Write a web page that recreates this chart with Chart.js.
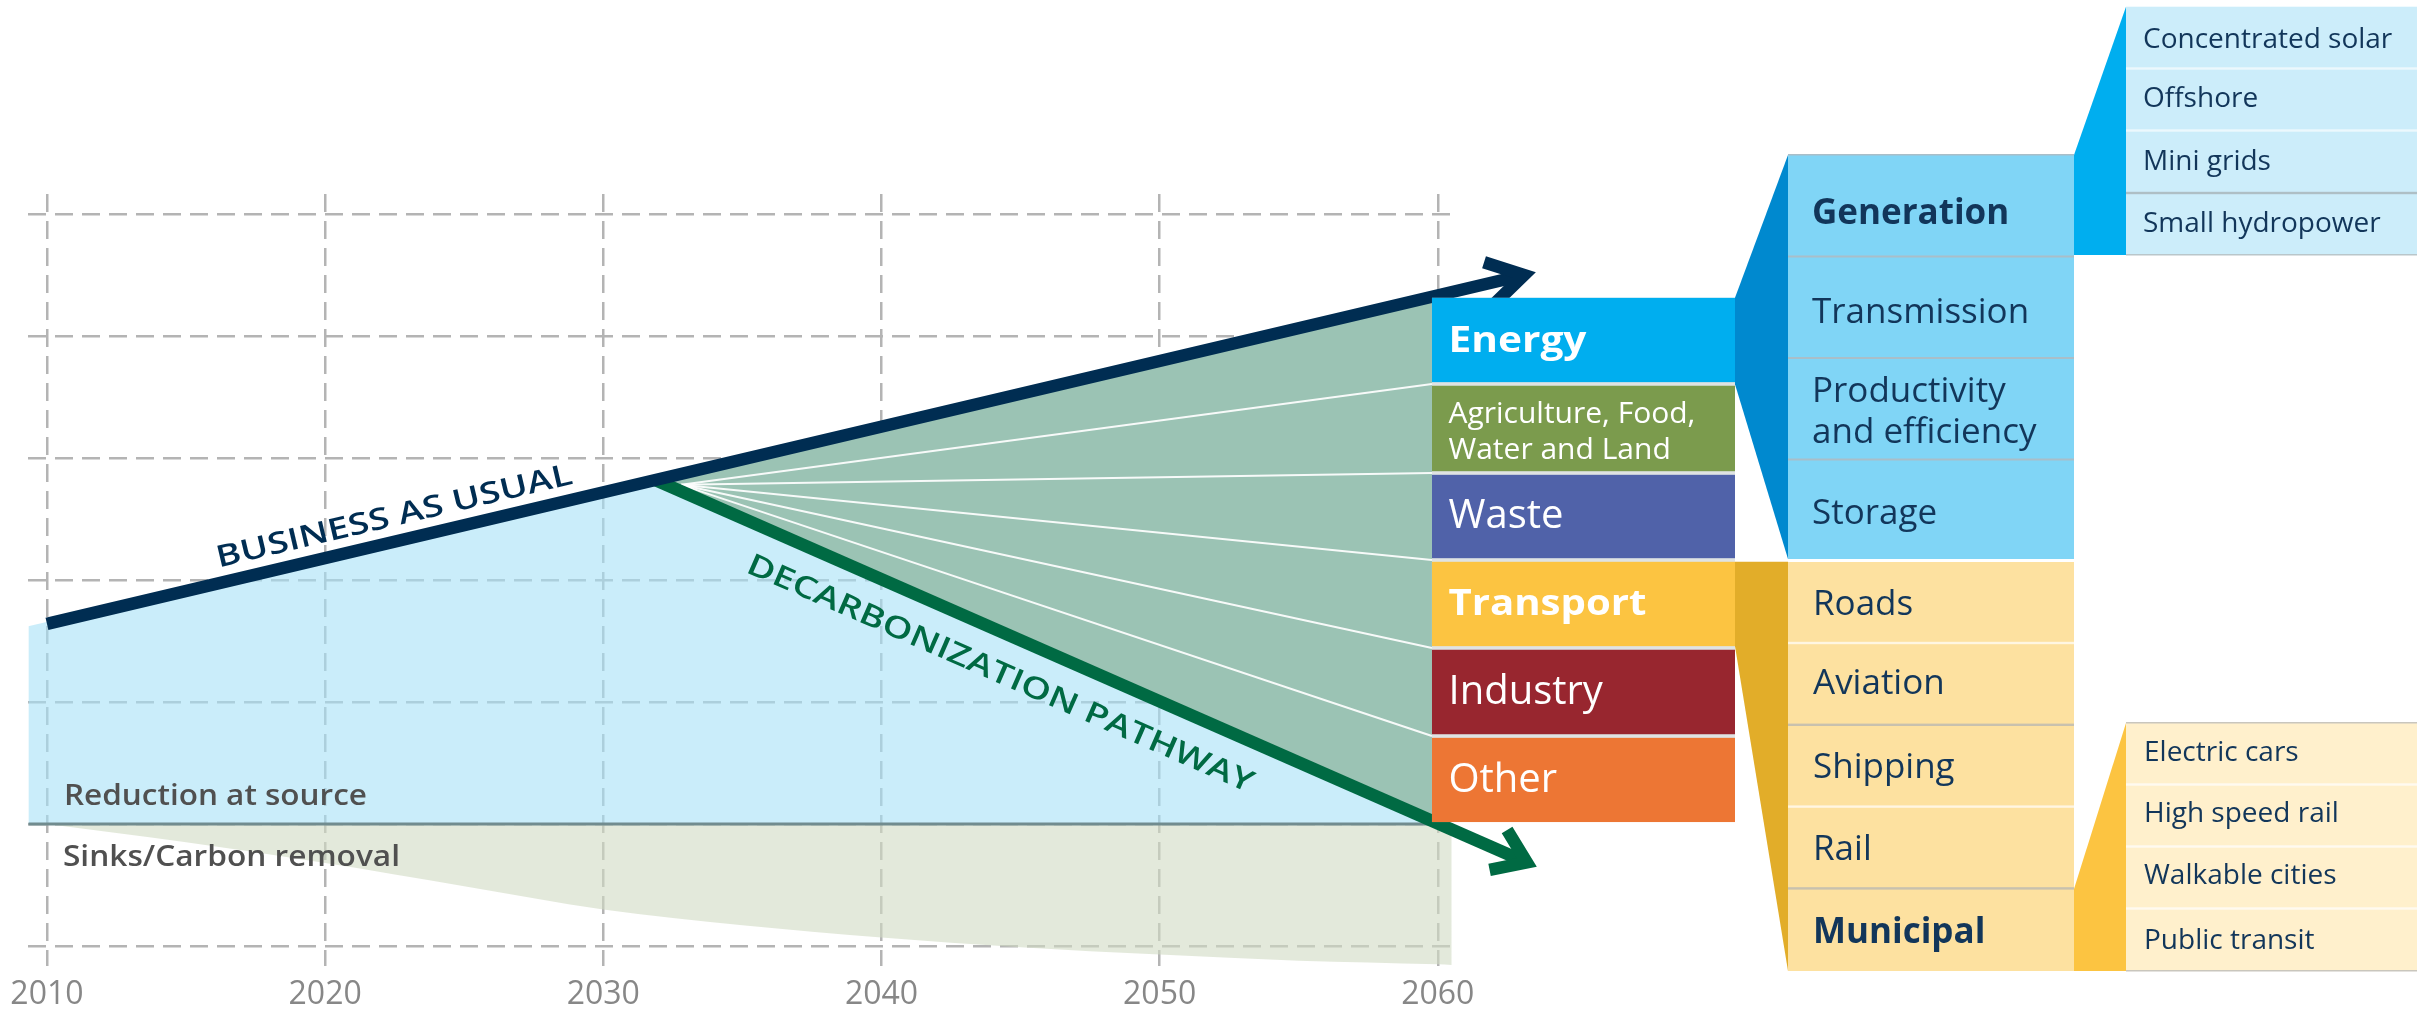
<!DOCTYPE html>
<html><head><meta charset="utf-8">
<script src="https://cdn.jsdelivr.net/npm/chart.js@4.4.1/dist/chart.umd.min.js"></script>
<style>html,body{margin:0;padding:0;background:#fff;}canvas{display:block;}</style>
</head><body>
<canvas id="c" width="2433" height="1012" style="width:2433px;height:1012px"></canvas>
<script>
// ---------------- DATA ----------------
const tickYears = [2010, 2020, 2030, 2040, 2050, 2060];
const yTicks = [-1, 0, 1, 2, 3, 4, 5];

const bauYears = [2010, 2031.87, 2063.1];
const bauValues = [1.64, 2.82, 4.50];

const decarbYears = [2031.87, 2063.2];
const decarbValues = [2.82, -0.315];

const reductionYears = [2009.33, 2031.87, 2060.2];
const reductionValues = [1.62, 2.82, 0];

const sinkYears = [2010, 2015, 2020, 2025, 2030, 2035, 2040, 2045, 2050, 2055, 2060, 2060.5];
const sinkValues = [0, -0.15, -0.32, -0.51, -0.70, -0.83, -0.93, -1.01, -1.07, -1.12, -1.15, -1.155];

const zeroYears = [2009.33, 2059.79];
const zeroValues = [0, 0];

const fanYears = [2031.87, 2059.79];
const fanTopValues = [2.82, 4.32];
const fanBottomValues = [2.82, 0.025];
const fanOriginYear = 2032.8;
const fanOriginValue = 2.78;

const sectorEdgeYear = 2059.79;
const sectorEdges = [4.313, 3.607, 2.877, 2.164, 1.443, 0.721, 0.016];

const sectorLabels = ['Energy', 'Agriculture, Food,|Water and Land', 'Waste', 'Transport', 'Industry', 'Other'];
const energyItems = ['Generation', 'Transmission', 'Productivity|and efficiency', 'Storage'];
const generationItems = ['Concentrated solar', 'Offshore', 'Mini grids', 'Small hydropower'];
const transportItems = ['Roads', 'Aviation', 'Shipping', 'Rail', 'Municipal'];
const municipalItems = ['Electric cars', 'High speed rail', 'Walkable cities', 'Public transit'];

// ---------------- HELPERS ----------------
const pts = (xs, ys) => xs.map((x, i) => ({x: x, y: ys[i]}));
const FONT = '"Open Sans", "Noto Sans", sans-serif';
const NAVY = '#12365a';

function txt(ctx, s, x, y, font, color, fitW) {
  ctx.save();
  ctx.font = font; ctx.fillStyle = color; ctx.textAlign = 'left'; ctx.textBaseline = 'alphabetic';
  ctx.translate(x, y);
  if (fitW) { const w = ctx.measureText(s).width; ctx.scale(fitW / w, 1); }
  ctx.fillText(s, 0, 0);
  ctx.restore();
}
function poly(ctx, p, color) {
  ctx.beginPath(); ctx.moveTo(p[0][0], p[0][1]);
  for (let i = 1; i < p.length; i++) ctx.lineTo(p[i][0], p[i][1]);
  ctx.closePath(); ctx.fillStyle = color; ctx.fill();
}
function chevron(ctx, meta, color, width, len, ang) {
  const d = meta.data, a = d[d.length - 2], b = d[d.length - 1];
  const th = Math.atan2(b.y - a.y, b.x - a.x);
  ctx.save();
  ctx.strokeStyle = color; ctx.lineWidth = width; ctx.lineJoin = 'miter'; ctx.miterLimit = 10; ctx.lineCap = 'butt';
  ctx.beginPath();
  ctx.moveTo(b.x - len * Math.cos(th - ang), b.y - len * Math.sin(th - ang));
  ctx.lineTo(b.x, b.y);
  ctx.lineTo(b.x - len * Math.cos(th + ang), b.y - len * Math.sin(th + ang));
  ctx.stroke();
  ctx.restore();
}
function alongText(ctx, meta, startPx, offset, text, font, color, fitW) {
  const d = meta.data, p0 = d[0], p1 = d[d.length - 1];
  const th = Math.atan2(p1.y - p0.y, p1.x - p0.x);
  const t = (startPx - p0.x) / (p1.x - p0.x);
  const py = p0.y + t * (p1.y - p0.y);
  ctx.save(); ctx.translate(startPx, py); ctx.rotate(th);
  txt(ctx, text, 0, offset, font, color, fitW);
  ctx.restore();
}

// ---------------- DATASETS ----------------
const datasets = [
  {label: 'bau', data: pts(bauYears, bauValues), borderColor: '#002d52', borderWidth: 12.5, borderCapStyle: 'butt', fill: false, clip: false, order: 0},
  {label: 'decarb', data: pts(decarbYears, decarbValues), borderColor: '#006a43', borderWidth: 12.5, borderCapStyle: 'butt', fill: false, clip: false, order: 1},
  {label: 'zero', data: pts(zeroYears, zeroValues), borderColor: '#718c8f', borderWidth: 3, fill: false, order: 2},
];
for (let k = 1; k <= 5; k++) {
  datasets.push({label: 'div' + k, data: [{x: fanOriginYear, y: fanOriginValue}, {x: sectorEdgeYear, y: sectorEdges[k]}],
    borderColor: 'rgba(255,255,255,0.92)', borderWidth: 2, fill: false, order: 3});
}
datasets.push({label: 'fanTop', data: pts(fanYears, fanTopValues), borderWidth: 0, backgroundColor: '#9bc3b4', fill: '+1', order: 4});
datasets.push({label: 'fanBottom', data: pts(fanYears, fanBottomValues), borderWidth: 0, fill: false, order: 5});
datasets.push({label: 'reduction', data: pts(reductionYears, reductionValues), borderWidth: 0, backgroundColor: 'rgba(167,225,247,0.6)', fill: 'origin', order: 6});
datasets.push({label: 'sinks', data: pts(sinkYears, sinkValues), borderWidth: 0, backgroundColor: 'rgba(208,219,195,0.6)', fill: 'origin', cubicInterpolationMode: 'monotone', clip: false, order: 7});

const idx = l => datasets.findIndex(d => d.label === l);

// ---------------- INFOGRAPHIC PLUGIN ----------------
const infographic = {
  id: 'infographic',
  afterDatasetsDraw(chart) {
    const ctx = chart.ctx, xs = chart.scales.x, ys = chart.scales.y;
    const bau = chart.getDatasetMeta(idx('bau')), dec = chart.getDatasetMeta(idx('decarb'));
    chevron(ctx, dec, '#006a43', 12.5, 38, 35 * Math.PI / 180);
    chevron(ctx, bau, '#002d52', 12.5, 42, 31 * Math.PI / 180);

    alongText(ctx, bau, xs.getPixelForValue(2016.3), -15.5, 'BUSINESS AS USUAL', '600 30px ' + FONT, '#002d52', 365);
    alongText(ctx, dec, xs.getPixelForValue(2035.78), 48, 'DECARBONIZATION PATHWAY', '600 30px ' + FONT, '#006a43', 550);

    const x0 = xs.getPixelForValue(2010), y0 = ys.getPixelForValue(0);
    txt(ctx, 'Reduction at source', x0 + 17, y0 - 19, '600 28px ' + FONT, '#505050', 303);
    txt(ctx, 'Sinks/Carbon removal', x0 + 16, y0 + 42, '600 28px ' + FONT, '#505050', 337);

    // ---- level 1 sector boxes (tied to the y scale) ----
    const bx0 = xs.getPixelForValue(sectorEdgeYear), bx1 = 1735;
    const e = sectorEdges.map(v => ys.getPixelForValue(v));
    const sectorColors = ['#00aeef', '#7b9b4d', '#5062a9', '#fcc441', '#98262f', '#ed7634'];
    ctx.fillStyle = '#dfe3e3';
    ctx.fillRect(bx0, e[0], bx1 - bx0, e[6] - e[0]);
    const rows = [];
    for (let i = 0; i < 6; i++) {
      const top = e[i] + (i ? 1.8 : 0), bot = e[i + 1] - (i < 5 ? 1.8 : 0);
      rows.push([top, bot]);
      ctx.fillStyle = sectorColors[i];
      ctx.fillRect(bx0, top, bx1 - bx0, bot - top);
    }
    const cx = bx0 + 16.5;
    const ctr = i => (rows[i][0] + rows[i][1]) / 2;
    txt(ctx, sectorLabels[0], cx, ctr(0) + 12, 'bold 35px ' + FONT, '#fff', 138);
    const ag = sectorLabels[1].split('|');
    txt(ctx, ag[0], cx, ctr(1) - 5.5, '30px ' + FONT, '#fff');
    txt(ctx, ag[1], cx, ctr(1) + 30.5, '30px ' + FONT, '#fff');
    txt(ctx, sectorLabels[2], cx, ctr(2) + 11, '40px ' + FONT, '#fff');
    txt(ctx, sectorLabels[3], cx, ctr(3) + 11, 'bold 35px ' + FONT, '#fff', 198);
    txt(ctx, sectorLabels[4], cx, ctr(4) + 12, '40px ' + FONT, '#fff');
    txt(ctx, sectorLabels[5], cx, ctr(5) + 12, '40px ' + FONT, '#fff');

    // ---- connectors ----
    poly(ctx, [[bx1, rows[0][0]], [1788, 155], [1788, 559], [bx1, rows[0][1] + 2]], '#0089cf');
    poly(ctx, [[bx1, rows[3][0]], [1788, rows[3][0]], [1788, 971], [bx1, rows[3][1]]], '#e2ad29');

    // ---- energy column ----
    const c2x = 1788, c2w = 286;
    ctx.fillStyle = '#80d5f6'; ctx.fillRect(c2x, 155, c2w, 404);
    ctx.fillStyle = '#a9bec8';
    ctx.fillRect(c2x, 154, c2w, 1.5);
    [256.5, 358, 459.5].forEach(s => ctx.fillRect(c2x, s - 1, c2w, 2));
    const tx2 = 1812;
    txt(ctx, energyItems[0], tx2, 224, 'bold 35px ' + FONT, NAVY);
    txt(ctx, energyItems[1], tx2, 323, '35px ' + FONT, NAVY);
    const pe = energyItems[2].split('|');
    txt(ctx, pe[0], tx2, 402, '35px ' + FONT, NAVY);
    txt(ctx, pe[1], tx2, 443, '35px ' + FONT, NAVY);
    txt(ctx, energyItems[3], tx2, 524, '35px ' + FONT, NAVY);

    // ---- transport column ----
    ctx.fillStyle = '#fde1a0'; ctx.fillRect(c2x, 562, c2w, 409);
    const tsep = [643, 724.8, 806.6, 888.4], tcol = ['#fff6e2', '#c8c1ae', '#fff6e2', '#c8c1ae'];
    tsep.forEach((s, i) => { ctx.fillStyle = tcol[i]; ctx.fillRect(c2x, s - 1.2, c2w, 2.4); });
    const tb = [615, 693.5, 778, 859.5, 942.5];
    transportItems.forEach((t, i) => txt(ctx, t, 1813, tb[i], (i === 4 ? 'bold ' : '') + '35px ' + FONT, NAVY));

    // ---- generation sub column ----
    poly(ctx, [[2074, 155], [2126, 6.7], [2126, 255], [2074, 255]], '#00aeef');
    ctx.fillStyle = '#ccedfa'; ctx.fillRect(2126, 6.7, 291, 248.3);
    const gsep = [68.5, 130.5, 193], gcol = ['#ecf8fd', '#ecf8fd', '#aebfc5'];
    gsep.forEach((s, i) => { ctx.fillStyle = gcol[i]; ctx.fillRect(2126, s - 1.2, 291, 2.4); });
    ctx.fillStyle = '#b9c6ca'; ctx.fillRect(2126, 254, 291, 1.5);
    const gb = [48, 107, 169.5, 231.5];
    generationItems.forEach((t, i) => txt(ctx, t, 2143, gb[i], '28px ' + FONT, NAVY));

    // ---- municipal sub column ----
    poly(ctx, [[2074, 889], [2126, 723], [2126, 971], [2074, 971]], '#fcc441');
    ctx.fillStyle = '#fff0cc'; ctx.fillRect(2126, 723, 291, 248);
    ctx.fillStyle = '#c9c6bd'; ctx.fillRect(2126, 722, 291, 1.5); ctx.fillRect(2126, 970, 291, 1.5);
    [784.5, 846.5, 908.5].forEach(s => { ctx.fillStyle = '#fffaf0'; ctx.fillRect(2126, s - 1.2, 291, 2.4); });
    const mb = [760.5, 821.5, 883.5, 948.5];
    municipalItems.forEach((t, i) => txt(ctx, t, 2144, mb[i], '28px ' + FONT, NAVY));
  }
};

// ---------------- CHART ----------------
new Chart(document.getElementById('c'), {
  type: 'line',
  data: {datasets: datasets},
  options: {
    responsive: false, animation: false, devicePixelRatio: 1,
    layout: {padding: {left: 28, right: 981, top: 194, bottom: 0}},
    plugins: {legend: {display: false}, tooltip: {enabled: false}},
    elements: {point: {radius: 0, hoverRadius: 0}, line: {tension: 0}},
    scales: {
      x: {
        type: 'linear', min: 2009.33, max: 2060.51,
        afterBuildTicks: s => { s.ticks = tickYears.map(v => ({value: v})); },
        afterFit: s => { s.height = 46; },
        grid: {color: '#b4b4b4', lineWidth: 2.5, drawTicks: false},
        border: {display: false, dash: [18, 9]},
        ticks: {color: '#878787', font: {family: FONT, size: 32}, padding: 10, maxRotation: 0, autoSkip: false,
          callback: v => String(v)}
      },
      y: {
        type: 'linear', min: -1.164, max: 5.164,
        afterBuildTicks: s => { s.ticks = yTicks.map(v => ({value: v})); },
        afterFit: s => { s.width = 0; },
        grid: {color: '#b4b4b4', lineWidth: 2.5, drawTicks: false},
        border: {display: false, dash: [18, 9]},
        ticks: {display: false}
      }
    }
  },
  plugins: [infographic]
});
</script>
</body></html>
